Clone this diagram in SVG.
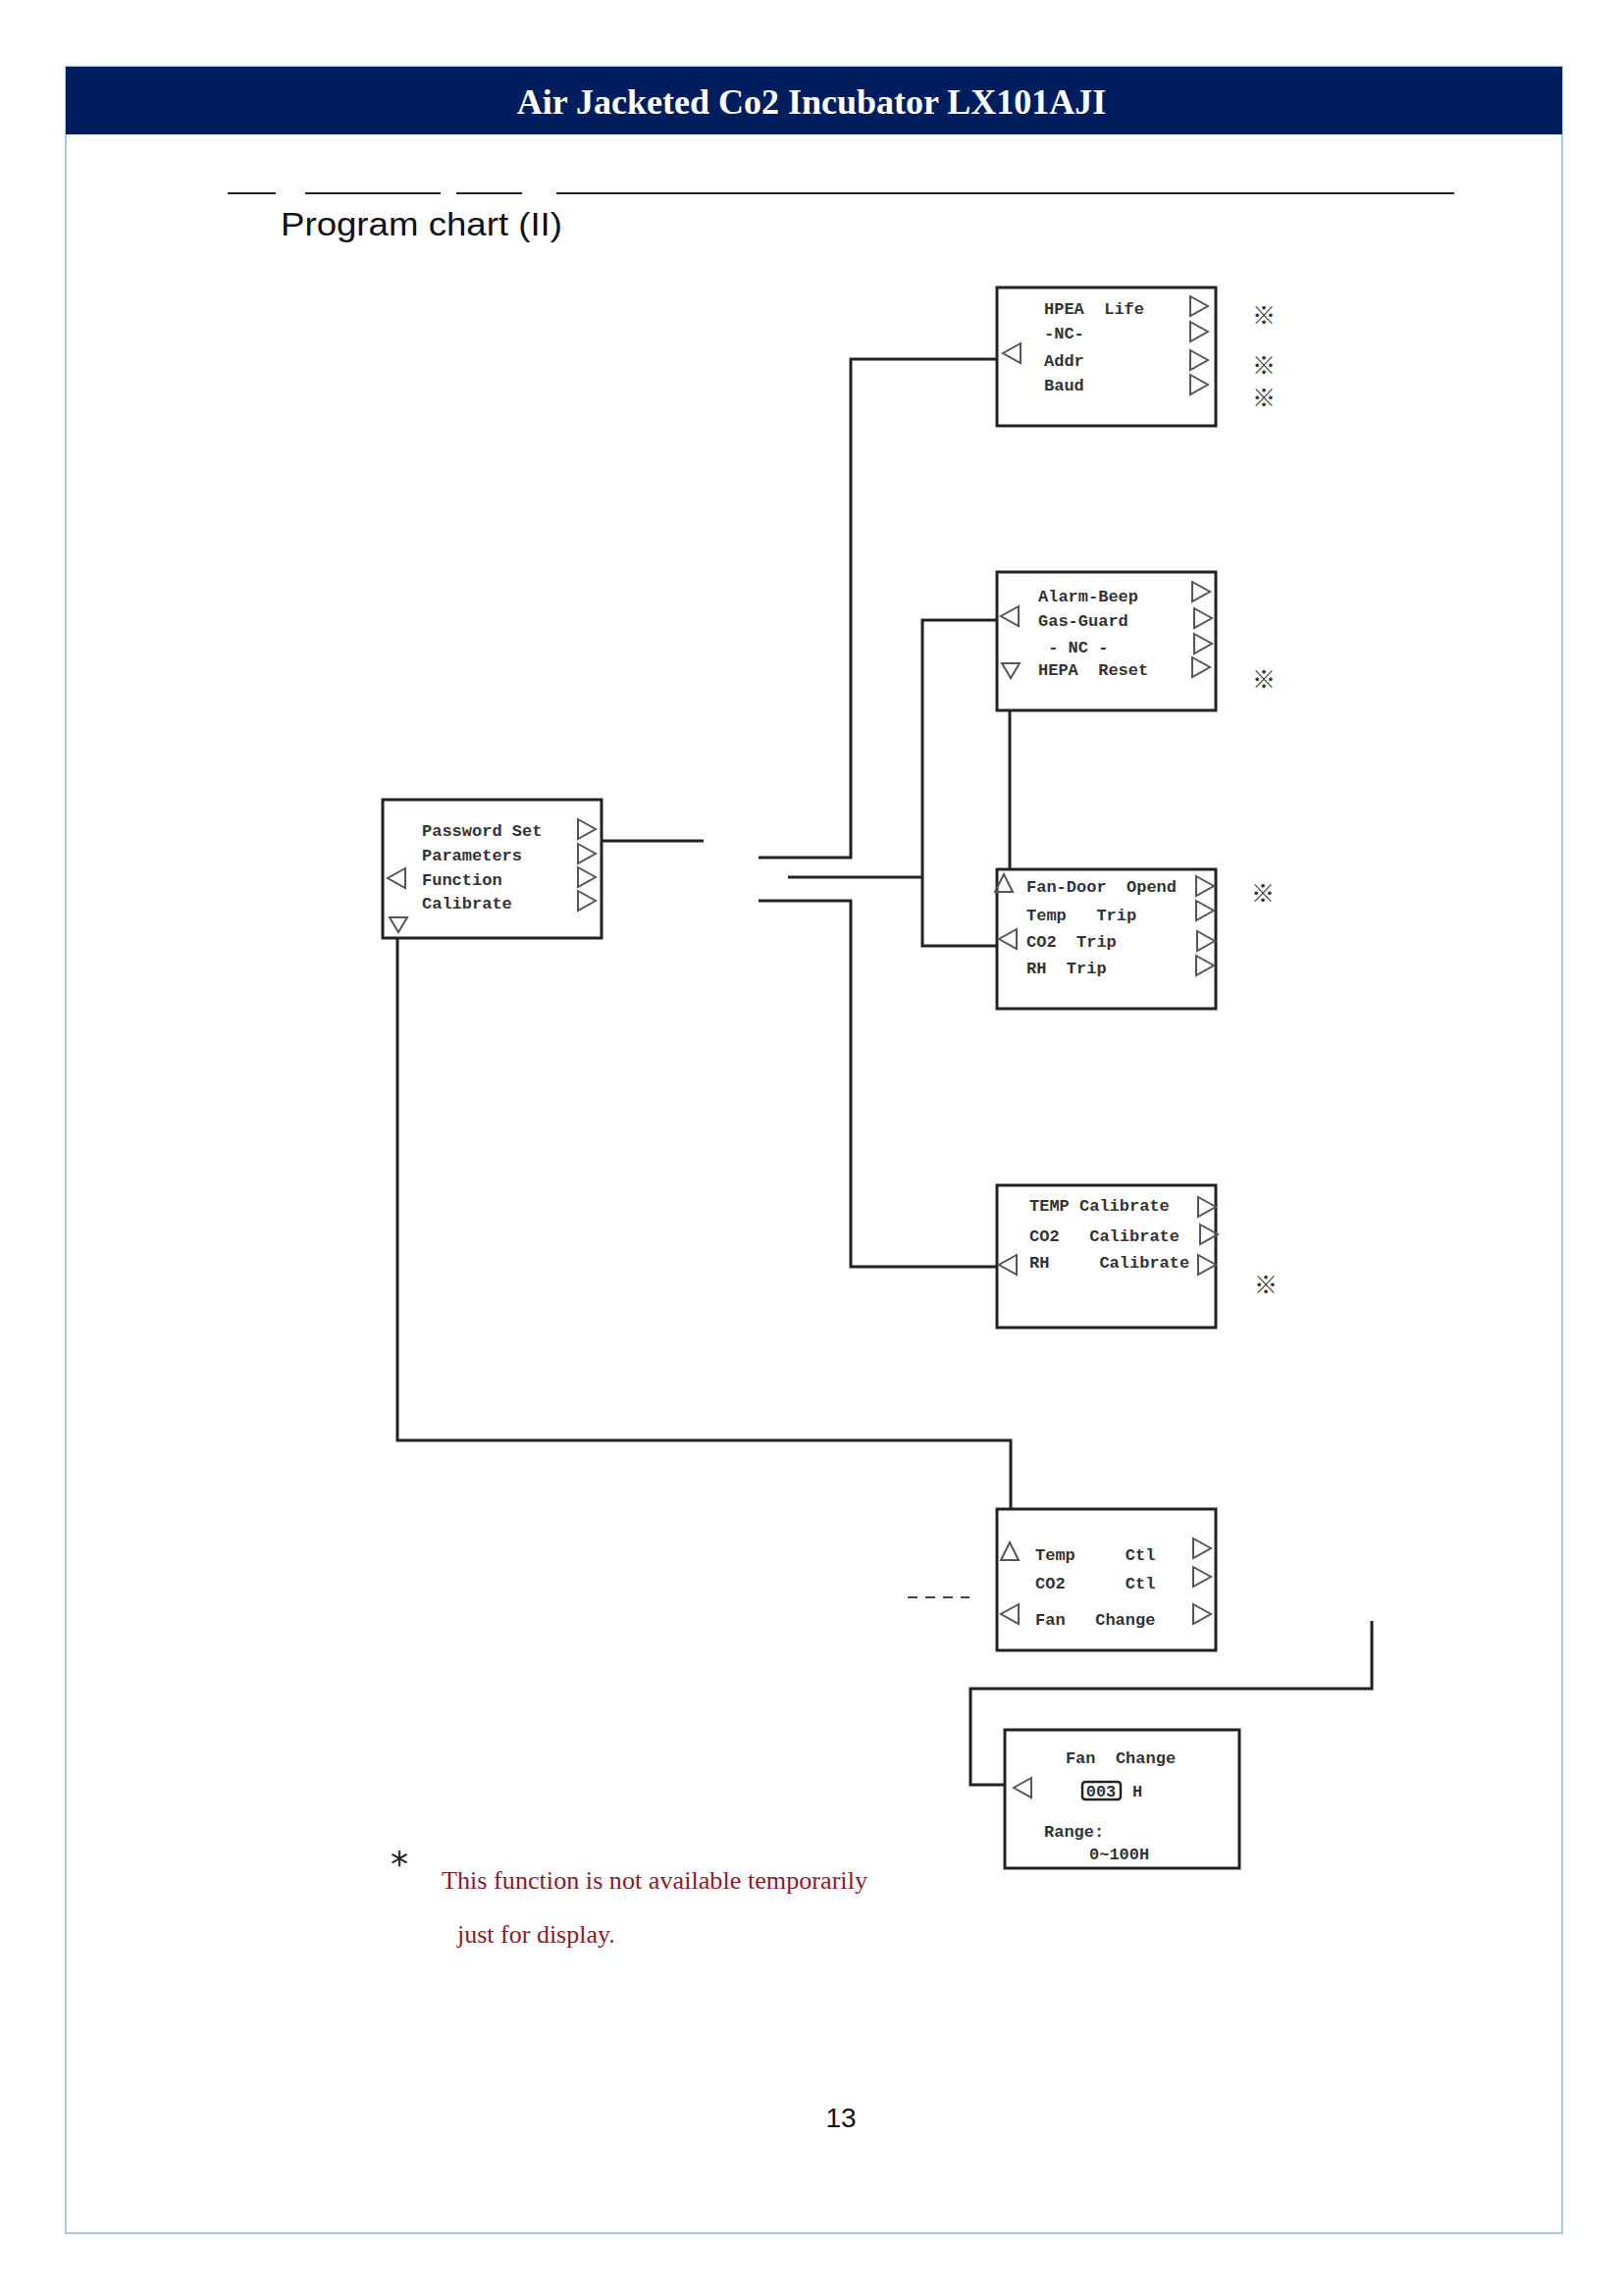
<svg xmlns="http://www.w3.org/2000/svg" width="1655" height="2339" viewBox="0 0 1655 2339">
<style>
.box{fill:#fff;stroke:#222;stroke-width:3}
.ln{fill:none;stroke:#222;stroke-width:3}
.tri{fill:none;stroke:#555;stroke-width:2}
.t{font-family:"Liberation Mono",monospace;font-size:17px;font-weight:bold;fill:#333;white-space:pre}
.ast{font-family:"Noto Sans CJK JP",sans-serif;font-size:24px;font-weight:bold;fill:#333}
</style>
<defs>
<path id="tr" d="M0,-10 L18,0 L0,10 Z" class="tri"/>
<path id="tl" d="M18,-10 L0,0 L18,10 Z" class="tri"/>
<path id="td" d="M0,0 L18,0 L9,15 Z" class="tri"/>
<path id="tu" d="M9,0 L18,18 L0,18 Z" class="tri"/>
</defs>
<rect width="1655" height="2339" fill="#fff"/>
<rect x="67" y="68" width="1525" height="2208" fill="none" stroke="#a8cce4" stroke-width="2"/>
<rect x="67" y="68" width="1525" height="69" fill="#001e5e"/>
<text x="827" y="116" text-anchor="middle" font-family="Liberation Serif,serif" font-weight="bold" font-size="36" fill="#fff">Air Jacketed Co2 Incubator LX101AJI</text>
<g stroke="#222" stroke-width="2">
<line x1="232" y1="197" x2="281" y2="197"/><line x1="311" y1="197" x2="449" y2="197"/><line x1="465" y1="197" x2="532" y2="197"/><line x1="567" y1="197" x2="1482" y2="197"/>
</g>
<text x="286" y="240" font-family="Liberation Sans,sans-serif" font-size="34" fill="#111" textLength="287" lengthAdjust="spacingAndGlyphs">Program chart (II)</text>

<g id="connectors">
<polyline class="ln" points="614,857 717,857"/>
<polyline class="ln" points="773,874 867,874 867,366 1016,366"/>
<polyline class="ln" points="803,894 940,894"/>
<polyline class="ln" points="1016,632 940,632 940,964 1016,964"/>
<polyline class="ln" points="773,918 867,918 867,1291 1016,1291"/>
<polyline class="ln" points="1029,725 1029,887"/>
<polyline class="ln" points="405,956 405,1468 1030,1468 1030,1538"/>
<polyline class="ln" points="1398,1652 1398,1721 989,1721 989,1819 1024,1819"/>
<line x1="925" y1="1628" x2="988" y2="1628" stroke="#444" stroke-width="2" stroke-dasharray="10,8"/>
</g>

<g id="main">
<rect class="box" x="390" y="815" width="223" height="141"/>
<text class="t" x="430" y="852">Password Set</text>
<text class="t" x="430" y="877">Parameters</text>
<text class="t" x="430" y="902">Function</text>
<text class="t" x="430" y="926">Calibrate</text>
<use href="#tr" x="589" y="845"/><use href="#tr" x="589" y="870"/><use href="#tr" x="589" y="894"/><use href="#tr" x="589" y="918"/>
<use href="#tl" x="395" y="895"/><use href="#td" x="397" y="935"/>
</g>

<g id="hepa">
<rect class="box" x="1016" y="293" width="223" height="141"/>
<text class="t" x="1064" y="320">HPEA  Life</text>
<text class="t" x="1064" y="345">-NC-</text>
<text class="t" x="1064" y="373">Addr</text>
<text class="t" x="1064" y="398">Baud</text>
<use href="#tr" x="1213" y="312"/><use href="#tr" x="1213" y="338"/><use href="#tr" x="1213" y="367"/><use href="#tr" x="1213" y="392"/>
<use href="#tl" x="1022" y="360"/>
<text class="ast" x="1276" y="330">※</text><text class="ast" x="1276" y="381">※</text><text class="ast" x="1276" y="414">※</text>
</g>

<g id="alarm">
<rect class="box" x="1016" y="583" width="223" height="141"/>
<text class="t" x="1058" y="613">Alarm-Beep</text>
<text class="t" x="1058" y="638">Gas-Guard</text>
<text class="t" x="1058" y="665"> - NC -</text>
<text class="t" x="1058" y="688">HEPA  Reset</text>
<use href="#tr" x="1215" y="603"/><use href="#tr" x="1217" y="630"/><use href="#tr" x="1217" y="656"/><use href="#tr" x="1215" y="680"/>
<use href="#tl" x="1020" y="628"/><use href="#td" x="1021" y="676"/>
<text class="ast" x="1276" y="701">※</text>
</g>

<g id="trip">
<rect class="box" x="1016" y="886" width="223" height="142"/>
<text class="t" x="1046" y="909">Fan-Door  Opend</text>
<text class="t" x="1046" y="938">Temp   Trip</text>
<text class="t" x="1046" y="965">CO2  Trip</text>
<text class="t" x="1046" y="992">RH  Trip</text>
<use href="#tr" x="1219" y="903"/><use href="#tr" x="1219" y="928"/><use href="#tr" x="1220" y="959"/><use href="#tr" x="1219" y="984"/>
<use href="#tu" x="1014" y="891"/><use href="#tl" x="1018" y="957"/>
<text class="ast" x="1275" y="919">※</text>
</g>

<g id="calib">
<rect class="box" x="1016" y="1208" width="223" height="145"/>
<text class="t" x="1049" y="1234">TEMP Calibrate</text>
<text class="t" x="1049" y="1265">CO2   Calibrate</text>
<text class="t" x="1049" y="1292">RH     Calibrate</text>
<use href="#tr" x="1221" y="1230"/><use href="#tr" x="1223" y="1258"/><use href="#tr" x="1221" y="1289"/>
<use href="#tl" x="1018" y="1289"/>
<text class="ast" x="1278" y="1318">※</text>
</g>

<g id="ctl">
<rect class="box" x="1016" y="1538" width="223" height="144"/>
<text class="t" x="1055" y="1590">Temp     Ctl</text>
<text class="t" x="1055" y="1619">CO2      Ctl</text>
<text class="t" x="1055" y="1656">Fan   Change</text>
<use href="#tr" x="1216" y="1578"/><use href="#tr" x="1216" y="1607"/><use href="#tr" x="1216" y="1645"/>
<use href="#tu" x="1020" y="1572"/><use href="#tl" x="1020" y="1645"/>
</g>

<g id="fanchange">
<rect class="box" x="1024" y="1763" width="239" height="141"/>
<text class="t" x="1142" y="1797" text-anchor="middle">Fan  Change</text>
<rect x="1103" y="1816" width="39" height="18" rx="3" fill="none" stroke="#222" stroke-width="2.5"/>
<text class="t" x="1122" y="1831" text-anchor="middle" font-size="13">003</text>
<text class="t" x="1154" y="1831">H</text>
<text class="t" x="1064" y="1872">Range:</text>
<text class="t" x="1110" y="1895">0~100H</text>
<use href="#tl" x="1033" y="1822"/>
</g>

<text x="398" y="1912" font-family="DejaVu Sans,sans-serif" font-size="36" fill="#222">*</text>
<text x="450" y="1925" font-family="Liberation Serif,serif" font-size="26" fill="#8b1a2a" textLength="434" lengthAdjust="spacingAndGlyphs">This function is not available temporarily</text>
<text x="466" y="1980" font-family="Liberation Serif,serif" font-size="26" fill="#8b1a2a">just for display.</text>

<text x="857" y="2168" text-anchor="middle" font-family="Liberation Sans,sans-serif" font-size="28" fill="#111">13</text>
</svg>
